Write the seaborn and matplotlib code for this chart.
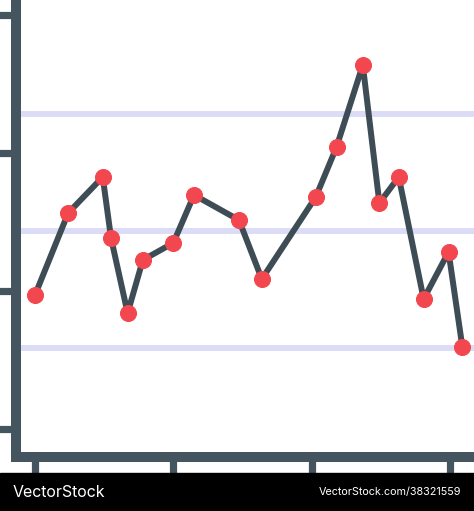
import matplotlib
matplotlib.use("Agg")
import matplotlib.pyplot as plt
import seaborn as sns
import pandas as pd
from matplotlib.patches import Rectangle

# data
x_vals = [0, 2.4, 4.9, 5.5, 6.7, 7.8, 10.0, 11.5, 14.75, 16.4,
          20.3, 21.8, 23.7, 24.9, 26.3, 28.1, 29.9, 30.9]
y_vals = [9.7, 15.65, 18.26, 13.84, 8.4, 12.25, 13.48, 16.96, 15.14, 10.87,
          16.81, 20.43, 26.38, 16.38, 18.26, 9.42, 12.83, 5.94]
x_ticks = [0, 10, 20, 30]
y_ticks = [0, 10, 20, 30]
bands = [22.83, 14.35, 5.87]

df = pd.DataFrame({"x": x_vals, "y": y_vals})

sns.set_style("white")
W, H = 474, 511
fig = plt.figure(figsize=(W / 100, H / 100), dpi=100)
ax = fig.add_axes([16 / W, 54 / H, (W - 16) / W, 457 / H])

dark = "#44555f"
red = "#f2474f"

for b in bands:
    ax.axhline(b, color="#dcdcf7", lw=4.3, zorder=1)

sns.lineplot(data=df, x="x", y="y", ax=ax, color="#3e4c55", lw=4.3,
             marker="o", markersize=11.5, markerfacecolor=red,
             markeredgecolor=red, zorder=3)

ax.set_xlim(-1.37, 31.74)
ax.set_ylim(-2.03, 31.09)
ax.set_xticks(x_ticks)
ax.set_yticks(y_ticks)
ax.set_xticklabels([])
ax.set_yticklabels([])
ax.set_xlabel("")
ax.set_ylabel("")
ax.tick_params(axis="both", direction="out", length=12, width=5.2,
               color=dark, bottom=True, left=True)

for s in ["top", "right"]:
    ax.spines[s].set_visible(False)
for s in ["left", "bottom"]:
    ax.spines[s].set_color(dark)
    ax.spines[s].set_linewidth(7.2)
    ax.spines[s].set_capstyle("projecting")

# watermark banner
fig.patches.append(Rectangle((0, 0), 1, 38 / H, transform=fig.transFigure,
                             color="black", zorder=10))
fig.text(13 / W, 19 / H, "VectorStock", color="white", fontsize=11.5,
         family="Inter", va="center", ha="left", zorder=11)
fig.text(461 / W, 19 / H, "VectorStock.com/38321559", color="white",
         fontsize=7.8, family="Inter", va="center", ha="right", zorder=11)

fig.savefig("out.png", dpi=100)
